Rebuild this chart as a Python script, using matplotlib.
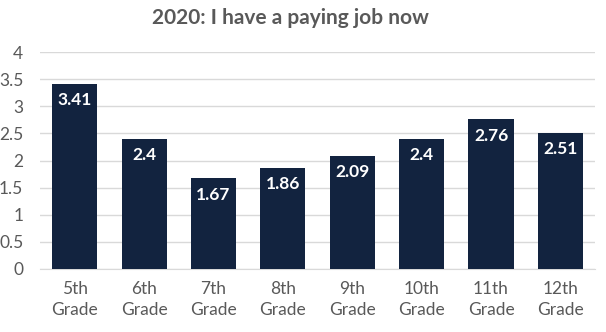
import matplotlib
matplotlib.use("Agg")
import matplotlib.pyplot as plt

# grade levels and average scores
grades = ["5th\nGrade", "6th\nGrade", "7th\nGrade", "8th\nGrade",
          "9th\nGrade", "10th\nGrade", "11th\nGrade", "12th\nGrade"]
scores = [3.41, 2.4, 1.67, 1.86, 2.09, 2.4, 2.76, 2.51]
yticks = [0, 0.5, 1, 1.5, 2, 2.5, 3, 3.5, 4]
ytick_labels = ["0", "0.5", "1", "1.5", "2", "2.5", "3", "3.5", "4"]

plt.rcParams['font.family'] = ['Lato', 'DejaVu Sans']

fig = plt.figure(figsize=(6.06, 3.32), dpi=100)
ax = fig.add_axes([0.066, 0.19, 0.916, 0.653])

bars = ax.bar(range(len(grades)), scores, width=0.65, color="#12233f", zorder=3)

for i, v in enumerate(scores):
    ax.annotate(str(v), (i, v), xytext=(0, -6), textcoords="offset points",
                ha="center", va="top", color="white", fontsize=12.5,
                fontweight="bold", zorder=4)

ax.set_ylim(0, 4)
ax.set_xlim(-0.5, len(grades) - 0.5)
ax.set_yticks(yticks)
ax.set_yticklabels(ytick_labels)
ax.set_xticks(range(len(grades)))
ax.set_xticklabels(grades, linespacing=1.35)
ax.yaxis.grid(True, color="#d9d9d9", linewidth=1, zorder=0)
ax.tick_params(axis="both", length=0, labelsize=12.5, labelcolor="#595959")
ax.tick_params(axis="x", pad=9)
ax.tick_params(axis="y", pad=12)
for s in ["top", "right", "left"]:
    ax.spines[s].set_visible(False)
ax.spines["bottom"].set_color("#d9d9d9")

fig.suptitle("2020: I have a paying job now", x=0.48, y=0.975,
             fontsize=15, fontweight="bold", color="#595959")

fig.savefig("out.png", dpi=100)
